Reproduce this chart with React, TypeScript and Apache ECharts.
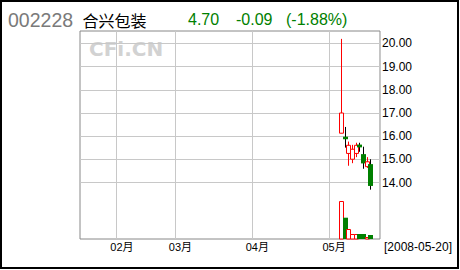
import React, { useEffect, useRef } from "react";
import * as echarts from "echarts";

// Header quote
const stockCode = "002228";
const stockName = "合兴包装";
const lastPrice = "4.70";
const priceChange = "-0.09";
const priceChangePct = "(-1.88%)";
const asOfLabel = "[2008-05-20]";
const watermarkText = "CFi.CN";

// Trading calendar shown on the x axis
const calendarStart = "2008-01-18";
const calendarEnd = "2008-05-22";
const exchangeHolidays = [
  "2008-02-06", "2008-02-07", "2008-02-08", "2008-02-11", "2008-02-12",
  "2008-04-04", "2008-05-01", "2008-05-02",
];

// Daily K-line (price in CNY)
const candleDates = [
  "2008-05-08", "2008-05-09", "2008-05-12", "2008-05-13", "2008-05-14",
  "2008-05-15", "2008-05-16", "2008-05-19", "2008-05-20",
];
const openPrices = [16.13, 15.98, 15.26, 15.01, 15.26, 15.64, 15.23, 14.69, 14.8];
const closePrices = [17.0, 15.87, 15.61, 15.44, 15.61, 15.52, 14.83, 14.9, 13.86];
const lowPrices = [16.13, 15.51, 14.73, 14.84, 15.1, 15.33, 14.6, 14.64, 13.7];
const highPrices = [20.19, 16.4, 15.77, 15.63, 15.72, 15.72, 15.55, 15.1, 15.01];
const volumes = [3800, 2130, 1000, 470, 470, 500, 500, 200, 400];

// Price axis range
const priceMin = 14;
const priceMax = 20;
const priceStep = 1;

const UP = "#ff0000";
const DOWN = "#008000";
const WICK_DOWN = "#000000";
const GRID_LINE = "#c8c8c8";

function buildTradingDays(): string[] {
  const days: string[] = [];
  const d = new Date(calendarStart + "T00:00:00Z");
  const end = new Date(calendarEnd + "T00:00:00Z");
  while (d <= end) {
    const wd = d.getUTCDay();
    const s = d.toISOString().slice(0, 10);
    if (wd !== 0 && wd !== 6 && !exchangeHolidays.includes(s)) days.push(s);
    d.setUTCDate(d.getUTCDate() + 1);
  }
  return days;
}

export default function App() {
  const ref = useRef<HTMLDivElement>(null);

  useEffect(() => {
    if (!ref.current) return;
    const chart = echarts.init(ref.current, null, { renderer: "svg" });
    const days = buildTradingDays();
    const isMonthStart = (i: number) =>
      i > 0 && days[i].slice(5, 7) !== days[i - 1].slice(5, 7);

    const candleData = candleDates.map((d, i) => [
      days.indexOf(d), openPrices[i], closePrices[i], lowPrices[i], highPrices[i],
    ]);
    const volumeData = candleDates.map((d, i) => [
      days.indexOf(d), volumes[i], closePrices[i] >= openPrices[i] ? 1 : -1,
    ]);

    const sansFont = "'Liberation Sans', Arial, sans-serif";

    chart.setOption({
      animation: false,
      backgroundColor: "#ffffff",
      grid: [
        // outer plot frame carrying the month grid lines
        { left: 80, top: 31, width: 300, height: 208, show: true, borderColor: "#888888", borderWidth: 1, backgroundColor: "transparent" },
        // price pane
        { left: 80, top: 43.3, width: 300, height: 139.4, show: false },
        // volume pane
        { left: 80, top: 201, width: 300, height: 38, show: false },
      ],
      xAxis: [
        {
          type: "category", gridIndex: 0, data: days, boundaryGap: true,
          axisLine: { show: false }, axisTick: { show: false },
          splitLine: {
            show: true,
            interval: (i: number) => isMonthStart(i),
            lineStyle: { color: GRID_LINE, width: 1 },
          },
          axisLabel: {
            interval: (i: number) => isMonthStart(i),
            formatter: (v: string) => v.slice(5, 7) + "月",
            color: "#000", fontSize: 11, margin: 2,
            fontFamily: "'Liberation Sans', 'Noto Sans CJK SC', sans-serif",
            padding: [0, 0, 0, 7],
          },
        },
        { type: "category", gridIndex: 1, data: days, boundaryGap: true, show: false },
        { type: "category", gridIndex: 2, data: days, boundaryGap: true, show: false },
      ],
      yAxis: [
        { type: "value", gridIndex: 0, show: false },
        {
          type: "value", gridIndex: 1, position: "right",
          min: priceMin, max: priceMax, interval: priceStep,
          axisLine: { show: false }, axisTick: { show: false },
          splitLine: { show: true, lineStyle: { color: GRID_LINE, width: 1 } },
          axisLabel: {
            formatter: (v: number) => v.toFixed(2),
            color: "#000", fontSize: 12, margin: 2, fontFamily: sansFont,
          },
        },
        { type: "value", gridIndex: 2, show: false, min: 0, max: Math.max(...volumes) },
      ],
      series: [
        {
          // hollow red up-candles, solid green down-candles with black wicks
          type: "custom", name: "K线", xAxisIndex: 1, yAxisIndex: 1, clip: false, silent: true,
          data: candleData,
          encode: { x: 0, y: [1, 2, 3, 4] },
          renderItem: (params: any, api: any) => {
            const i = params.dataIndex;
            const idx = candleData[i][0];
            const o = openPrices[i], c = closePrices[i], l = lowPrices[i], h = highPrices[i];
            const x = api.coord([idx, o])[0];
            const yO = api.coord([idx, o])[1];
            const yC = api.coord([idx, c])[1];
            const yL = api.coord([idx, l])[1];
            const yH = api.coord([idx, h])[1];
            const up = c >= o;
            const left = Math.round(x - 2.5);
            const wx = left + 2.5;
            const top = Math.min(yO, yC);
            const bodyH = Math.max(Math.abs(yO - yC), 1);
            const wick = { type: "line", shape: { x1: wx, y1: yH, x2: wx, y2: yL }, style: { stroke: up ? UP : WICK_DOWN, fill: null, lineWidth: 1 } };
            const body = up
              ? { type: "rect", shape: { x: left + 0.5, y: top, width: 4, height: bodyH }, style: { fill: "#ffffff", stroke: UP, lineWidth: 1 } }
              : { type: "rect", shape: { x: left, y: top, width: 5, height: bodyH }, style: { fill: DOWN, stroke: null } };
            return { type: "group", children: [wick, body] };
          },
        },
        {
          type: "custom", name: "成交量", xAxisIndex: 2, yAxisIndex: 2, silent: true,
          data: volumeData,
          encode: { x: 0, y: 1 },
          renderItem: (params: any, api: any) => {
            const i = params.dataIndex;
            const idx = volumeData[i][0];
            const v = volumes[i];
            const up = volumeData[i][2] > 0;
            const [x, yTop] = api.coord([idx, v]);
            const yBase = api.coord([idx, 0])[1];
            const left = Math.round(x - 2.5);
            const yt = Math.round(yTop);
            return up
              ? { type: "rect", shape: { x: left + 0.5, y: yt + 0.5, width: 4, height: yBase - yt - 0.5 }, style: { fill: "#ffffff", stroke: UP, lineWidth: 1 } }
              : { type: "rect", shape: { x: left, y: yTop, width: 5, height: yBase - yTop }, style: { fill: DOWN, stroke: null } };
          },
        },
      ],
      graphic: [
        { type: "rect", shape: { x: 1, y: 1, width: 457, height: 267 }, style: { fill: "none", stroke: "#000", lineWidth: 2 }, silent: true },
        { type: "text", x: 8, y: 19.5, style: { text: stockCode, fill: "#7a7a7a", font: `19.5px ${sansFont}`, textVerticalAlign: "middle" } },
        { type: "text", x: 82.5, y: 19.5, style: { text: stockName, fill: "#000", font: "16px 'Noto Sans CJK SC', sans-serif", textVerticalAlign: "middle" } },
        { type: "text", x: 188, y: 19.5, style: { text: lastPrice, fill: DOWN, font: `16px ${sansFont}`, textVerticalAlign: "middle" } },
        { type: "text", x: 236, y: 19.5, style: { text: priceChange, fill: DOWN, font: `16px ${sansFont}`, textVerticalAlign: "middle" } },
        { type: "text", x: 286, y: 19.5, style: { text: priceChangePct, fill: DOWN, font: `16px ${sansFont}`, textVerticalAlign: "middle" } },
        { type: "text", x: 384, y: 246.5, style: { text: asOfLabel, fill: "#000", font: `12px ${sansFont}`, textVerticalAlign: "middle" } },
        { type: "text", x: 89, y: 48.5, style: { text: watermarkText, fill: "#d2d2d2", font: "bold 20px 'DejaVu Sans', sans-serif", textVerticalAlign: "middle" } },
      ],
    });

    return () => chart.dispose();
  }, []);

  return (
    <div
      ref={ref}
      style={{ position: "fixed", left: 0, top: 0, width: 460, height: 270, background: "#fff" }}
    />
  );
}
